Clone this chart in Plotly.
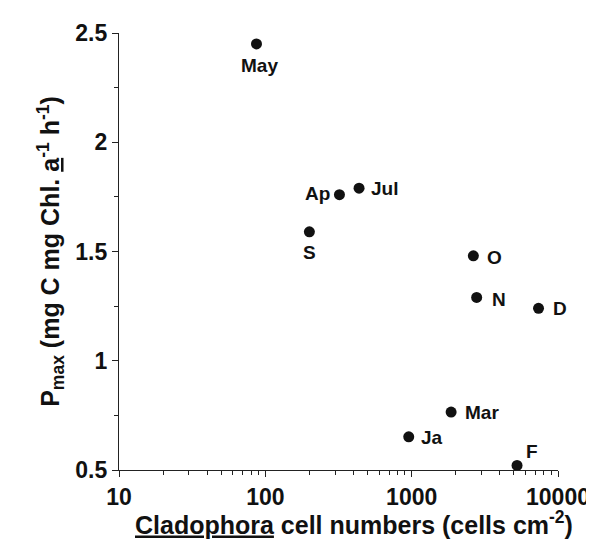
import math
import plotly.graph_objects as go

months = ["May", "Ap", "Jul", "S", "O", "N", "D", "Mar", "Ja", "F"]
cells = [87, 321, 437, 200, 2640, 2780, 7360, 1860, 955, 5250]
pmax = [2.45, 1.76, 1.79, 1.59, 1.48, 1.29, 1.24, 0.765, 0.652, 0.521]
x_tick_vals = [10, 100, 1000, 10000]
x_tick_text = ["10", "100", "1000", "10000"]
y_tick_vals = [0.5, 1, 1.5, 2, 2.5]
y_tick_text = ["0.5", "1", "1.5", "2", "2.5"]
x_title = "<u>Cladophora</u> cell numbers (cells cm<sup>-2</sup>)"
y_title = "P<sub>max</sub> (mg C mg Chl. <u>a</u><sup>-1</sup> h<sup>-1</sup>)"

# label placement (anchor, x shift px, y shift px) relative to each dot
label_style = {
    "May": ("center", 3, -22),
    "Ap": ("right", -7, 1),
    "Jul": ("left", 10, 0),
    "S": ("center", 0, -21),
    "O": ("left", 12, -2),
    "N": ("left", 13, -2),
    "D": ("left", 12, 0),
    "Mar": ("left", 12, 0),
    "Ja": ("left", 10, -1),
    "F": ("center", 15, 14),
}

FONT = "Liberation Sans, Arial, sans-serif"

fig = go.Figure()
fig.add_trace(go.Scatter(
    x=cells, y=pmax, mode="markers",
    marker=dict(color="#111", size=11),
    showlegend=False, cliponaxis=False, hoverinfo="x+y",
))

for m, cx, cy in zip(months, cells, pmax):
    anchor, dx, dy = label_style[m]
    fig.add_annotation(
        x=math.log10(cx), y=cy, xref="x", yref="y",
        text="<b>%s</b>" % m, showarrow=False,
        xanchor=anchor, yanchor="middle", xshift=dx, yshift=dy,
        font=dict(family=FONT, size=19, color="#111"),
    )

# x-axis title (placed slightly right of centre, as in the original)
fig.add_annotation(
    x=0.535, y=0, xref="paper", yref="paper",
    text=x_title, showarrow=False,
    xanchor="center", yanchor="top", yshift=-35,
    font=dict(family=FONT, size=25, color="#111", weight="bold"),
)

axis_common = dict(
    showline=True, linecolor="#222", linewidth=1.3,
    ticks="outside", ticklen=6, tickcolor="#222", tickwidth=1.3,
    showgrid=False, zeroline=False,
    tickfont=dict(family=FONT, size=23, color="#111", weight="bold"),
    title_font=dict(family=FONT, size=25, color="#111", weight="bold"),
    mirror=False,
)

fig.update_xaxes(
    type="log", range=[1, 4],
    tickvals=x_tick_vals, ticktext=x_tick_text,
    minor=dict(ticks="outside", ticklen=4, tickcolor="#222", dtick="D1", showgrid=False),
    **axis_common,
)
fig.update_yaxes(
    range=[0.5, 2.5],
    tickvals=y_tick_vals, ticktext=y_tick_text,
    minor=dict(ticks="outside", ticklen=4, tickcolor="#222", dtick=0.25, showgrid=False),
    title_text=y_title,
    title_standoff=8,
    **axis_common,
)

fig.update_layout(
    width=594, height=539,
    margin=dict(l=111, r=35, t=19, b=77),
    paper_bgcolor="white", plot_bgcolor="white",
    font=dict(family=FONT, color="#111"),
)

fig.write_html("out.html")
